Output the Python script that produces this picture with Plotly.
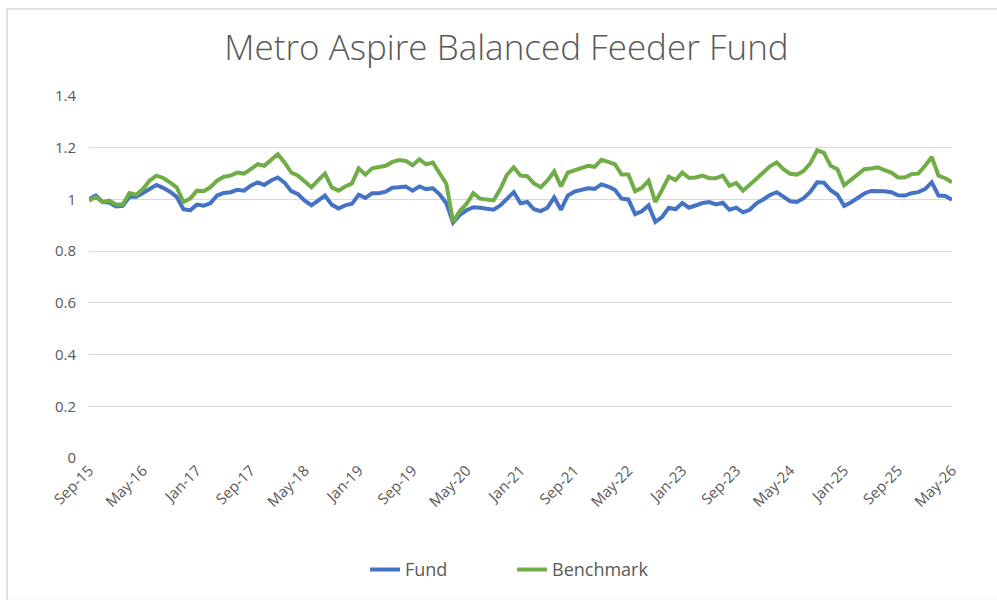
import pandas as pd
import plotly.graph_objects as go

months = [d.strftime("%b-%y") for d in pd.date_range("2015-09-01", "2026-05-01", freq="MS")]

fund = [
    1.00, 1.015, 0.99, 0.988, 0.973, 0.975, 1.01, 1.01, 1.025, 1.04,
    1.056, 1.045, 1.03, 1.01, 0.962, 0.958, 0.98, 0.976, 0.985, 1.015,
    1.025, 1.028, 1.037, 1.034, 1.053, 1.066, 1.056, 1.073, 1.085, 1.065,
    1.032, 1.02, 0.995, 0.977, 0.996, 1.015, 0.98, 0.965, 0.977, 0.983,
    1.018, 1.006, 1.024, 1.024, 1.03, 1.045, 1.047, 1.05, 1.034, 1.05,
    1.04, 1.043, 1.02, 0.985, 0.91, 0.94, 0.958, 0.97, 0.968, 0.965,
    0.96, 0.977, 1.003, 1.028, 0.985, 0.99, 0.962, 0.955, 0.968, 1.008,
    0.96, 1.015, 1.03, 1.037, 1.043, 1.041, 1.058, 1.05, 1.037, 1.003,
    1.0, 0.943, 0.954, 0.977, 0.913, 0.932, 0.968, 0.962, 0.986, 0.968,
    0.977, 0.986, 0.99, 0.981, 0.987, 0.96, 0.968, 0.95, 0.96, 0.985,
    1.0, 1.017, 1.028, 1.009, 0.993, 0.99, 1.005, 1.03, 1.066, 1.065,
    1.036, 1.018, 0.975, 0.988, 1.006, 1.023, 1.033, 1.034, 1.032, 1.028,
    1.016, 1.015, 1.024, 1.028, 1.04, 1.066, 1.015, 1.013, 0.999,
]

benchmark = [
    0.995, 1.01, 0.99, 0.995, 0.98, 0.98, 1.025, 1.018, 1.04, 1.073,
    1.092, 1.083, 1.066, 1.047, 0.99, 1.003, 1.034, 1.032, 1.047, 1.073,
    1.088, 1.092, 1.104, 1.10, 1.117, 1.136, 1.13, 1.155, 1.175, 1.143,
    1.104, 1.092, 1.07, 1.047, 1.075, 1.10, 1.047, 1.034, 1.05, 1.062,
    1.12, 1.096, 1.12, 1.124, 1.13, 1.145, 1.152, 1.149, 1.132, 1.155,
    1.136, 1.143, 1.098, 1.06, 0.913, 0.955, 0.983, 1.024, 1.003, 0.999,
    0.996, 1.04, 1.096, 1.124, 1.092, 1.09, 1.062, 1.047, 1.073, 1.108,
    1.05, 1.104, 1.113, 1.121, 1.13, 1.126, 1.153, 1.145, 1.136, 1.096,
    1.096, 1.032, 1.045, 1.073, 0.99, 1.037, 1.088, 1.075, 1.104, 1.083,
    1.085, 1.092, 1.082, 1.082, 1.092, 1.053, 1.064, 1.034, 1.055, 1.08,
    1.104, 1.128, 1.143, 1.117, 1.099, 1.096, 1.11, 1.14, 1.19, 1.18,
    1.13, 1.117, 1.055, 1.075, 1.096, 1.117, 1.12, 1.124, 1.113, 1.104,
    1.085, 1.085, 1.098, 1.10, 1.13, 1.164, 1.092, 1.082, 1.066,
]

tick_labels = months[::8]
y_ticks = [0, 0.2, 0.4, 0.6, 0.8, 1, 1.2, 1.4]
y_tick_text = ["0", "0.2", "0.4", "0.6", "0.8", "1", "1.2", "1.4"]

FONT = "Open Sans"
GREY = "#595959"

fig = go.Figure()
fig.add_trace(go.Scatter(x=months, y=fund, mode="lines", name="Fund",
                         line=dict(color="#4472C4", width=4)))
fig.add_trace(go.Scatter(x=months, y=benchmark, mode="lines", name="Benchmark",
                         line=dict(color="#70AD47", width=4)))

L, R, T, B = 89, 45, 96, 138
W, H = 997, 600
pw, ph = W - L - R, H - T - B

def px_x(p):
    return (p - L) / pw

def px_y(p):
    return (H - B - p) / ph

fig.update_layout(
    width=W, height=H,
    margin=dict(l=L, r=R, t=T, b=B),
    paper_bgcolor="white", plot_bgcolor="white",
    title=dict(text="Metro Aspire Balanced Feeder Fund", x=0.508, xanchor="center",
               y=1 - 48 / H, yanchor="middle",
               font=dict(family=FONT, size=35, color=GREY, weight=300)),
    font=dict(family=FONT, color=GREY, size=15),
    xaxis=dict(type="category", categoryorder="array", categoryarray=months,
               range=[0, len(months) - 1], tickmode="array",
               tickvals=tick_labels, ticktext=tick_labels, tickangle=-45,
               showgrid=False, showline=False, zeroline=False, ticks="",
               tickfont=dict(family=FONT, size=15, color=GREY)),
    yaxis=dict(range=[0, 1.4], tickmode="array", tickvals=y_ticks, ticktext=y_tick_text,
               showgrid=True, gridcolor="#D9D9D9", gridwidth=1.3, zeroline=False,
               showline=False, ticks="", ticklabelstandoff=12,
               tickfont=dict(family=FONT, size=15, color=GREY)),
    legend=dict(orientation="h", x=px_x(512), xanchor="center", y=px_y(575), yanchor="middle",
                font=dict(family=FONT, size=18, color=GREY),
                traceorder="normal", entrywidth=102, entrywidthmode="pixels"),
    shapes=[dict(type="rect", xref="paper", yref="paper",
                 x0=px_x(7), x1=px_x(1002), y0=px_y(8), y1=px_y(606),
                 line=dict(color="#D9D9D9", width=1.5), fillcolor="rgba(0,0,0,0)",
                 layer="below")],
)

fig.write_html("out.html", config={"displayModeBar": False},
               post_script="document.body.style.margin='0px';")
